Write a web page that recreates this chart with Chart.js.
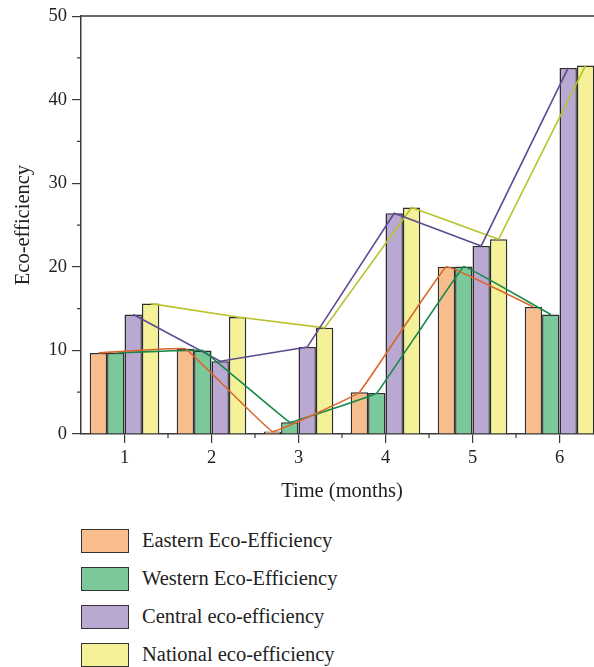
<!DOCTYPE html>
<html><head><meta charset="utf-8">
<script src="https://cdn.jsdelivr.net/npm/chart.js@4.4.1/dist/chart.umd.min.js"></script>
<style>
html,body{margin:0;padding:0;overflow:hidden;background:#fff;width:594px;height:667px}
.layer{position:absolute;left:0;top:0;width:612px;height:510px}
#legend{position:absolute;left:81px;top:529px;font-family:"Liberation Serif","DejaVu Serif",serif;font-size:20.5px;color:#222}
.item{position:relative;height:38px;width:400px}
.box{position:absolute;left:0;top:0;width:46px;height:22px;border:1.2px solid #333}
.lab{position:absolute;left:61px;top:0;line-height:23px;white-space:nowrap}
</style>
</head><body>
<div class="layer"><canvas id="c" width="612" height="510"></canvas></div>
<div class="layer"><canvas id="c2" width="612" height="510"></canvas></div>
<div id="legend"></div>
<script>
const months = ['1', '2', '3', '4', '5', '6'];
const seriesNames = ['Eastern Eco-Efficiency', 'Western Eco-Efficiency', 'Central eco-efficiency', 'National eco-efficiency'];
const eastern  = [9.7, 10.2, 0.3, 5.0, 20.0, 15.2];
const western  = [9.7, 10.0, 1.4, 4.9, 20.05, 14.3];
const central  = [14.3, 8.7, 10.4, 26.4, 22.5, 43.8];
const national = [15.6, 14.0, 12.7, 27.1, 23.3, 44.1];
const yTicks = [0, 10, 20, 30, 40, 50];

const barFill = ['#f8bd8d', '#7bc99a', '#b9a8d2', '#f5f198'];
const lineCol = ['#d9672b', '#16894a', '#5e4a90', '#b9c22a'];
const series = [eastern, western, central, national];
const tensions = [0.05, 0.03, 0, 0];

const CAT_PCT = 0.8;
const nSeries = series.length;
const barW = CAT_PCT / nSeries;

const FONT = '"Liberation Serif", "DejaVu Serif", serif';
const AX = '#3a3a3a';
const yMin = yTicks[0], yMax = yTicks[yTicks.length - 1];

const barSets = series.map((vals, k) => ({
  label: seriesNames[k], data: vals,
  backgroundColor: barFill[k], borderColor: '#2e2e2e', borderWidth: 1.5,
  categoryPercentage: CAT_PCT, barPercentage: 1.0
}));

const extras = {
  id: 'extras',
  afterDraw(chart) {
    const ctx = chart.ctx, a = chart.chartArea;
    const xs = chart.scales.x, ys = chart.scales.y;
    ctx.save();
    ctx.strokeStyle = AX; ctx.lineWidth = 1.5;
    ctx.beginPath();
    ctx.moveTo(a.left, a.top); ctx.lineTo(a.right, a.top);
    ctx.moveTo(a.right, a.top); ctx.lineTo(a.right, a.bottom);
    ctx.stroke();
    ctx.lineWidth = 1.2;
    ctx.beginPath();
    for (let i = 0; i < months.length - 1; i++) {
      const px = (xs.getPixelForTick(i) + xs.getPixelForTick(i + 1)) / 2;
      ctx.moveTo(px, a.bottom); ctx.lineTo(px, a.bottom + 4);
    }
    for (let i = 0; i < yTicks.length - 1; i++) {
      const py = ys.getPixelForValue((yTicks[i] + yTicks[i + 1]) / 2);
      ctx.moveTo(a.left, py); ctx.lineTo(a.left - 4, py);
    }
    ctx.stroke();
    ctx.restore();
  }
};

const chartA = new Chart(document.getElementById('c'), {
  type: 'bar',
  data: {labels: months, datasets: barSets},
  options: {
    responsive: false, animation: false,
    layout: {padding: {top: 16, right: 9, left: 0, bottom: 0}},
    plugins: {legend: {display: false}, tooltip: {enabled: false}},
    scales: {
      x: {
        type: 'category', offset: true,
        grid: {offset: false, drawOnChartArea: false, tickLength: 9, color: AX, lineWidth: 1.2},
        border: {display: true, color: AX, width: 1.5},
        ticks: {font: {family: FONT, size: 18.5}, color: '#222', padding: 4, maxRotation: 0},
        title: {display: true, text: 'Time (months)', font: {family: FONT, size: 20.5}, color: '#222', padding: {top: 4, bottom: 6}},
        afterFit(s) { s.height = 76; }
      },
      y: {
        min: yMin, max: yMax,
        afterBuildTicks(s) { s.ticks = yTicks.map(v => ({value: v})); },
        grid: {drawOnChartArea: false, tickLength: 9, color: AX, lineWidth: 1.2},
        border: {display: true, color: AX, width: 1.5},
        ticks: {font: {family: FONT, size: 18.5}, color: '#222', padding: 5},
        title: {display: true, text: 'Eco-efficiency', font: {family: FONT, size: 20.5}, color: '#222', padding: {top: 11, bottom: 4}},
        afterFit(s) { s.width = 81; }
      }
    }
  },
  plugins: [extras]
});

// Connecting lines: drawn on an overlay chart whose plot area matches chart A exactly
const A = chartA.chartArea, W = chartA.width, H = chartA.height;
const lineSets = series.map((vals, k) => {
  const off = (k - (nSeries - 1) / 2) * barW;
  return {
    label: seriesNames[k], data: vals.map((v, i) => ({x: i + 1 + off, y: v})),
    borderColor: lineCol[k], borderWidth: 1.6, pointRadius: 0,
    tension: tensions[k], fill: false
  };
});
new Chart(document.getElementById('c2'), {
  type: 'line',
  data: {datasets: lineSets},
  options: {
    responsive: false, animation: false,
    layout: {padding: {left: A.left, top: A.top, right: W - A.right, bottom: H - A.bottom}},
    plugins: {legend: {display: false}, tooltip: {enabled: false}},
    scales: {
      x: {type: 'linear', display: false, offset: false, min: 0.5, max: months.length + 0.5},
      y: {type: 'linear', display: false, min: yMin, max: yMax}
    }
  }
});

const lg = document.getElementById('legend');
seriesNames.forEach((n, k) => {
  const it = document.createElement('div'); it.className = 'item';
  const b = document.createElement('div'); b.className = 'box'; b.style.background = barFill[k];
  const t = document.createElement('div'); t.className = 'lab'; t.textContent = n;
  it.appendChild(b); it.appendChild(t); lg.appendChild(it);
});
</script>
</body></html>
